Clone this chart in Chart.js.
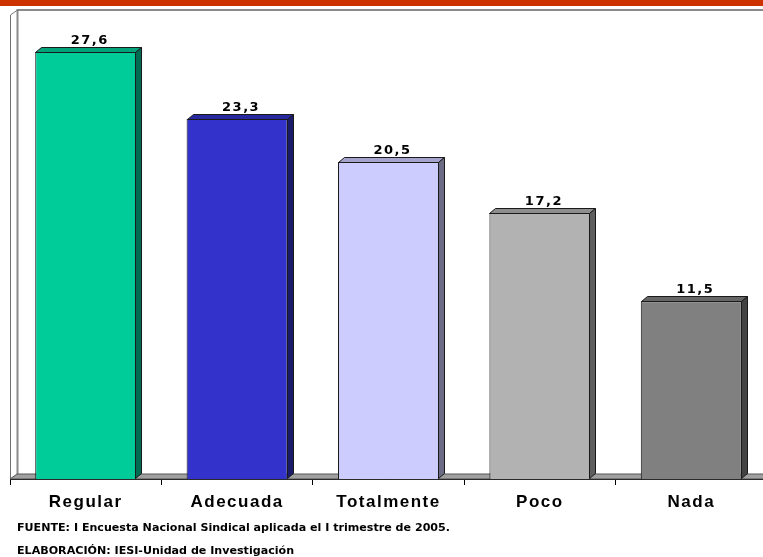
<!DOCTYPE html>
<html><head><meta charset="utf-8">
<script src="https://cdn.jsdelivr.net/npm/chart.js@4"></script>
<style>
html,body{margin:0;padding:0;background:#fff;overflow:hidden;width:763px;height:557px;position:relative}
#topbar{position:absolute;left:0;top:0;width:763px;height:6px;background:#CC3300}
#wrap{position:absolute;left:0;top:0;width:770px;height:557px}
.note{position:absolute;left:17px;font-family:"DejaVu Sans";font-weight:bold;font-size:11.1px;line-height:13px;color:#000;white-space:nowrap}
</style></head><body>
<div id="wrap"><canvas id="c" width="770" height="557"></canvas></div>
<div id="topbar"></div>
<div class="note" style="top:521px">FUENTE: I Encuesta Nacional Sindical aplicada el I trimestre de 2005.</div>
<div class="note" style="top:544px">ELABORACIÓN: IESI-Unidad de Investigación</div>
<script>
const categories = ['Regular', 'Adecuada', 'Totalmente', 'Poco', 'Nada'];
const values = [27.6, 23.3, 20.5, 17.2, 11.5];
const yTicks = { min: 0, max: 30 };

const frontColors = ['#00CC99', '#3333CC', '#CCCCFF', '#B2B2B2', '#808080'];
const topColors   = ['#00A37A', '#29299F', '#A3A3CC', '#8E8E8E', '#666666'];
const sideColors  = ['#006B50', '#1A1A6B', '#6B6B86', '#5E5E5E', '#434343'];

const DX = 6, DY = 5;
const WX = 7, WY = 5;

const threeD = {
  id: 'threeD',
  beforeDraw(chart) { chart.ctx.letterSpacing = '1.5px'; },
  beforeDatasetsDraw(chart) {
    const { ctx, chartArea: a } = chart;
    ctx.save();
    ctx.letterSpacing = '0px';
    // back wall
    ctx.fillStyle = '#fff';
    ctx.fillRect(a.left + WX, a.top - WY, a.right - a.left, a.bottom - a.top);
    ctx.strokeStyle = '#8a8a8a';
    ctx.lineWidth = 2;
    ctx.beginPath();
    ctx.moveTo(a.left + WX + 0.5, a.bottom - WY);
    ctx.lineTo(a.left + WX + 0.5, a.top - WY);
    ctx.lineTo(a.right + WX + 10, a.top - WY);
    ctx.stroke();
    // left wall
    ctx.lineWidth = 1;
    ctx.strokeStyle = '#707070';
    ctx.beginPath();
    ctx.moveTo(a.left + 0.5, a.bottom);
    ctx.lineTo(a.left + 0.5, a.top);
    ctx.lineTo(a.left + WX + 0.5, a.top - WY);
    ctx.stroke();
    // floor
    ctx.fillStyle = '#A0A0A0';
    ctx.strokeStyle = '#555';
    ctx.beginPath();
    ctx.moveTo(a.left, a.bottom);
    ctx.lineTo(a.left + WX, a.bottom - WY);
    ctx.lineTo(a.right + WX + 10, a.bottom - WY);
    ctx.lineTo(a.right + 10, a.bottom);
    ctx.closePath();
    ctx.fill();
    ctx.stroke();
    ctx.restore();
  },
  afterDatasetsDraw(chart) {
    const { ctx } = chart;
    const meta = chart.getDatasetMeta(0);
    ctx.save();
    ctx.lineWidth = 1;
    ctx.strokeStyle = '#1a1a1a';
    meta.data.forEach((bar, i) => {
      const p = bar.getProps(['x', 'y', 'base', 'width'], true);
      const x0 = Math.round(p.x - p.width / 2) + 0.5;
      const x1 = Math.round(p.x + p.width / 2) - 0.5;
      const y = Math.round(p.y) + 0.5;
      const b = Math.round(p.base) - 0.5;
      // top face
      ctx.fillStyle = topColors[i];
      ctx.beginPath();
      ctx.moveTo(x0, y);
      ctx.lineTo(x0 + DX, y - DY);
      ctx.lineTo(x1 + DX, y - DY);
      ctx.lineTo(x1, y);
      ctx.closePath();
      ctx.fill(); ctx.stroke();
      // side face
      ctx.fillStyle = sideColors[i];
      ctx.beginPath();
      ctx.moveTo(x1, y);
      ctx.lineTo(x1 + DX, y - DY);
      ctx.lineTo(x1 + DX, b - DY);
      ctx.lineTo(x1, b);
      ctx.closePath();
      ctx.fill(); ctx.stroke();
      // value label
      ctx.fillStyle = '#000';
      ctx.font = 'bold 13px "DejaVu Sans"';
      ctx.letterSpacing = '1.5px';
      ctx.textAlign = 'center';
      ctx.textBaseline = 'alphabetic';
      const txt = values[i].toFixed(1).replace('.', ',');
      ctx.fillText(txt, p.x + 4, p.y - 8);
    });
    ctx.restore();
  }
};

new Chart(document.getElementById('c'), {
  type: 'bar',
  data: {
    labels: categories,
    datasets: [{
      data: values,
      backgroundColor: frontColors,
      borderColor: '#1a1a1a',
      borderWidth: 1,
      barPercentage: 0.667,
      categoryPercentage: 1
    }]
  },
  options: {
    responsive: false,
    animation: false,
    devicePixelRatio: 1,
    layout: { padding: { top: 15, left: 10, right: 3, bottom: 28 } },
    plugins: { legend: { display: false }, tooltip: { enabled: false } },
    scales: {
      y: { display: false, min: yTicks.min, max: yTicks.max },
      x: {
        afterFit(scale) { scale.height = 50; },
        grid: { display: true, drawOnChartArea: false, drawTicks: true, tickLength: 6, color: '#000', offset: true },
        border: { display: true, color: '#000', width: 1 },
        ticks: { color: '#000', padding: 7, font: { family: '"Liberation Sans", Arial', size: 17, weight: 'bold' }, maxRotation: 0 }
      }
    }
  },
  plugins: [threeD]
});
</script>
</body></html>
